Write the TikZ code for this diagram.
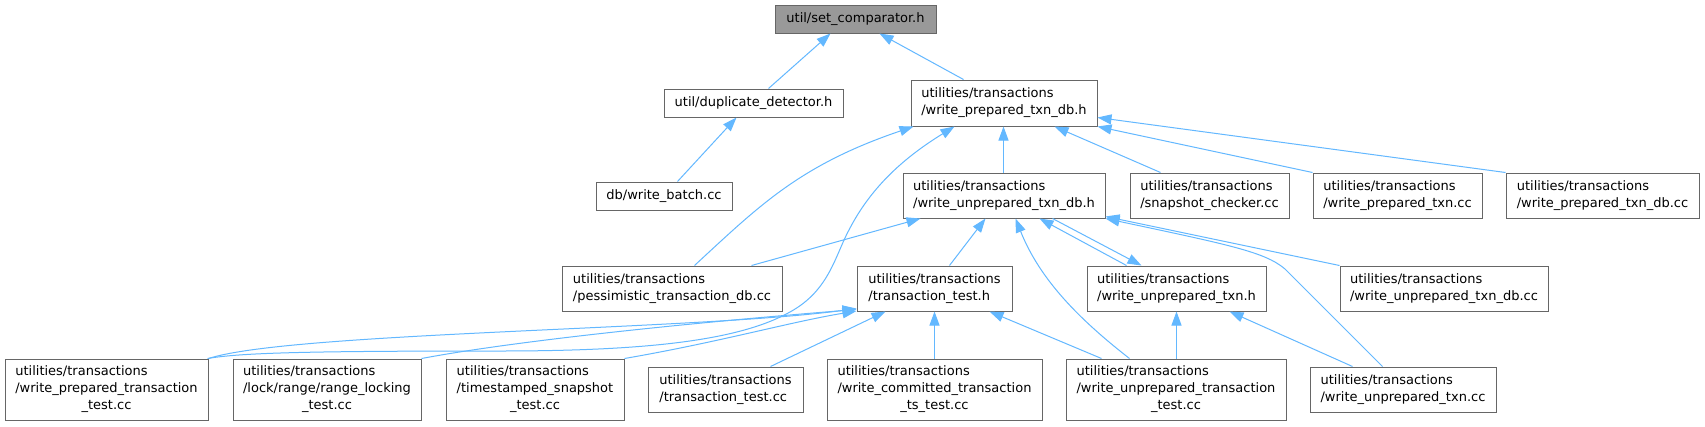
\documentclass[tikz,border=0pt]{standalone}
\usepackage{fontspec}
\setmainfont{DejaVu Sans}
\usetikzlibrary{arrows.meta}
\definecolor{edgeblue}{HTML}{63B8FF}
\definecolor{boxborder}{HTML}{666666}
\definecolor{rootfill}{HTML}{999999}
\newcommand{\twol}[2]{\begin{tabular}{@{}l@{}}#1\\#2\end{tabular}}
\newcommand{\threel}[3]{\begin{tabular}{@{}l@{}}#1\\#2\\\multicolumn{1}{@{}c@{}}{#3}\end{tabular}}
\newcommand{\ut}{utilities/transactions}
\tikzset{
  box/.style={draw=boxborder, line width=1pt, fill=white, inner sep=0pt,
    font=\fontsize{13}{17}\selectfont, align=center},
  rootbox/.style={box, fill=rootfill},
  edge/.style={draw=edgeblue, line width=1pt, -{Triangle[length=14pt,width=10pt]}, edgeblue}
}
\begin{document}
\begin{tikzpicture}[x=1pt,y=-1pt]
\fill[white] (0,0) rectangle (1705,426);
\useasboundingbox (0,0) rectangle (1705,426);
% row 0
\node[rootbox, minimum width=161pt, minimum height=28pt] (sc) at (855.5,19) {util/set\_comparator.h};
% row 1
\node[box, minimum width=179pt, minimum height=28pt] (dd) at (753.5,103) {util/duplicate\_detector.h};
\node[box, minimum width=186pt, minimum height=46pt] (wptdbh) at (1004,103) {\twol{\ut}{/write\_prepared\_txn\_db.h}};
% row 2
\node[box, minimum width=136pt, minimum height=28pt] (wb) at (664,196) {db/write\_batch.cc};
\node[box, minimum width=202pt, minimum height=45pt] (wutdbh) at (1004,195.5) {\twol{\ut}{/write\_unprepared\_txn\_db.h}};
\node[box, minimum width=159pt, minimum height=45pt] (snap) at (1209.5,195.5) {\twol{\ut}{/snapshot\_checker.cc}};
\node[box, minimum width=169pt, minimum height=45pt] (wptc) at (1397.5,195.5) {\twol{\ut}{/write\_prepared\_txn.cc}};
\node[box, minimum width=193pt, minimum height=45pt] (wptdbcc) at (1602.5,195.5) {\twol{\ut}{/write\_prepared\_txn\_db.cc}};
% row 3
\node[box, minimum width=220pt, minimum height=45pt] (pess) at (672,288.5) {\twol{\ut}{/pessimistic\_transaction\_db.cc}};
\node[box, minimum width=155pt, minimum height=45pt] (tth) at (934.5,288.5) {\twol{\ut}{/transaction\_test.h}};
\node[box, minimum width=179pt, minimum height=45pt] (wuth) at (1176.5,288.5) {\twol{\ut}{/write\_unprepared\_txn.h}};
\node[box, minimum width=208pt, minimum height=45pt] (wutdbcc) at (1444,288.5) {\twol{\ut}{/write\_unprepared\_txn\_db.cc}};
% row 4
\node[box, minimum width=203pt, minimum height=61pt] (wptt) at (106.5,389.5) {\threel{\ut}{/write\_prepared\_transaction}{\_test.cc}};
\node[box, minimum width=188pt, minimum height=61pt] (rlt) at (327,389.5) {\threel{\ut}{/lock/range/range\_locking}{\_test.cc}};
\node[box, minimum width=178pt, minimum height=61pt] (tst) at (535,389.5) {\threel{\ut}{/timestamped\_snapshot}{\_test.cc}};
\node[box, minimum width=155pt, minimum height=45pt] (ttcc) at (725.5,389.5) {\twol{\ut}{/transaction\_test.cc}};
\node[box, minimum width=215pt, minimum height=61pt] (wcts) at (934.5,389.5) {\threel{\ut}{/write\_committed\_transaction}{\_ts\_test.cc}};
\node[box, minimum width=220pt, minimum height=61pt] (wutt) at (1176,389.5) {\threel{\ut}{/write\_unprepared\_transaction}{\_test.cc}};
\node[box, minimum width=186pt, minimum height=45pt] (wutcc) at (1403,389.5) {\twol{\ut}{/write\_unprepared\_txn.cc}};
% edges
\draw[edge] ([xshift=105pt]dd.north west) -- ([xshift=56pt]sc.south west);
\draw[edge] ([xshift=53pt]wptdbh.north west) -- ([xshift=105pt]sc.south west);
\draw[edge] ([xshift=82pt]wb.north west) -- ([xshift=73pt]dd.south west);
\draw[edge] ([xshift=133pt]pess.north west) .. controls (760,205) and (800,165) .. ([xshift=3pt]wptdbh.south west);
\draw[edge] ([xshift=-1pt]wptt.north east) .. controls (240,353) and (300,351) .. (500,351)
   .. controls (650,351) and (740,340) .. (790,312)
   .. controls (830,290) and (835,255) .. (850,228)
   .. controls (870,190) and (900,160) .. ([xshift=44pt]wptdbh.south west);
\draw[edge] ([xshift=101pt]wutdbh.north west) -- ([xshift=93pt]wptdbh.south west);
\draw[edge] ([xshift=31pt]snap.north west) -- ([xshift=144pt]wptdbh.south west);
\draw[edge] (wptc.north west) -- (wptdbh.south east);
\draw[edge] (wptdbcc.north west) -- ([yshift=9pt]wptdbh.south east);
\draw[edge] ([xshift=190pt]pess.north west) -- ([xshift=18pt]wutdbh.south west);
\draw[edge] ([xshift=93pt]tth.north west) -- ([xshift=83pt]wutdbh.south west);
\draw[edge] ([xshift=40pt]wuth.north west) -- ([xshift=137pt]wutdbh.south west);
\draw[edge] ([xshift=150pt]wutdbh.south west) -- ([xshift=55pt]wuth.north west);
\draw[edge] ([xshift=64pt]wutt.north west) .. controls (1080,320) and (1040,280) .. ([xshift=113pt]wutdbh.south west);
\draw[edge] ([xshift=73pt]wutcc.north west) -- (1285,269) .. controls (1265,252) and (1230,245) .. (wutdbh.south east);
\draw[edge] (wutdbcc.north west) -- ([yshift=2pt]wutdbh.south east);
\draw[edge] (wptt.north east) .. controls (290,332) and (700,330) .. ([yshift=3pt]tth.south west);
\draw[edge] (rlt.north east) .. controls (520,340) and (700,322) .. ([yshift=2pt]tth.south west);
\draw[edge] (tst.north east) .. controls (720,342) and (790,322) .. ([yshift=0.5pt]tth.south west);
\draw[edge] ([xshift=123pt]ttcc.north west) -- ([xshift=29pt]tth.south west);
\draw[edge] (wcts.north) -- (tth.south);
\draw[edge] ([xshift=36pt]wutt.north west) -- ([xshift=133pt]tth.south west);
\draw[edge] ([xshift=111pt]wutt.north west) -- ([xshift=90pt]wuth.south west);
\draw[edge] ([xshift=43pt]wutcc.north west) -- ([xshift=143pt]wuth.south west);
\end{tikzpicture}
\end{document}
